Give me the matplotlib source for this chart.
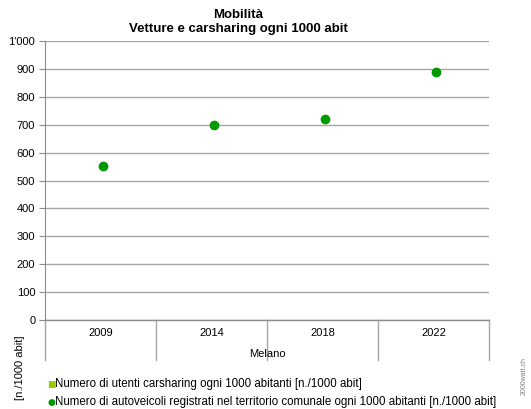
import matplotlib
matplotlib.use('Agg')
import matplotlib.pyplot as plt
from matplotlib.lines import Line2D
from matplotlib.ticker import FuncFormatter

plt.rcParams['font.family'] = ['Liberation Sans', 'DejaVu Sans']

years = ['2009', '2014', '2018', '2022']
group = 'Melano'
autoveicoli = [553, 700, 720, 890]
carsharing_label = 'Numero di utenti carsharing ogni 1000 abitanti [n./1000 abit]'
auto_label = 'Numero di autoveicoli registrati nel territorio comunale ogni 1000 abitanti [n./1000 abit]'

W, H = 531, 409
fig = plt.figure(figsize=(W / 100, H / 100), dpi=100)
ax = fig.add_axes([45 / W, 89 / H, 444 / W, 279 / H])

xs = [i + 0.52 for i in range(len(years))]
ax.plot(xs, autoveicoli, 'o', color='#009900', markersize=6, zorder=3)

ax.set_xlim(0, len(years))
ax.set_ylim(0, 1000)
ax.set_yticks(range(0, 1001, 100))
ax.yaxis.set_major_formatter(FuncFormatter(lambda v, p: "1'000" if v == 1000 else f'{int(v)}'))
ax.grid(axis='y', color='#a6a6a6', linewidth=1)
ax.set_axisbelow(True)
for s in ['top', 'right', 'bottom']:
    ax.spines[s].set_visible(False)
ax.spines['left'].set_color('#8c8c8c')
ax.tick_params(axis='y', length=4, color='#8c8c8c', labelsize=8, pad=3)
ax.set_xticks([])

# category axis below the plot
trans = ax.get_xaxis_transform()
for i in range(len(years) + 1):
    ax.add_line(Line2D([i, i], [0, -40 / 279], transform=trans, color='#a6a6a6',
                       linewidth=1, clip_on=False))
ax.add_line(Line2D([0, len(years)], [0, 0], transform=trans, color='#8c8c8c',
                   linewidth=1, clip_on=False))
for i, lab in enumerate(years):
    ax.text(i + 0.5, -13 / 279, lab, transform=trans, ha='center', va='center', fontsize=8)
ax.text(len(years) / 2, -34 / 279, group, transform=trans, ha='center', va='center', fontsize=8)

fig.text(238 / W, 1 - 15 / H, 'Mobilità', ha='center', va='center', fontsize=9.5, fontweight='bold')
fig.text(238 / W, 1 - 29 / H, 'Vetture e carsharing ogni 1000 abit', ha='center', va='center',
         fontsize=9.5, fontweight='bold')

fig.text(20 / W, 1 - 368 / H, '[n./1000 abit]', rotation=90, ha='center', va='center', fontsize=8)

fig.text(51 / W, 1 - 384 / H, '\u25a0', color='#99cc00', ha='center', va='center', fontsize=6.5,
         family=['DejaVu Sans'])
fig.text(55 / W, 1 - 384 / H, carsharing_label, ha='left', va='center', fontsize=8.3)
fig.text(51 / W, 1 - 402 / H, '\u25cf', color='#009900', ha='center', va='center', fontsize=6.5,
         family=['DejaVu Sans'])
fig.text(55 / W, 1 - 402 / H, auto_label, ha='left', va='center', fontsize=8.3)

fig.text(524 / W, 1 - 376 / H, '2000watt.ch', rotation=90, ha='center', va='center',
         fontsize=5, color='#808080')

fig.savefig('out.png', dpi=100)
